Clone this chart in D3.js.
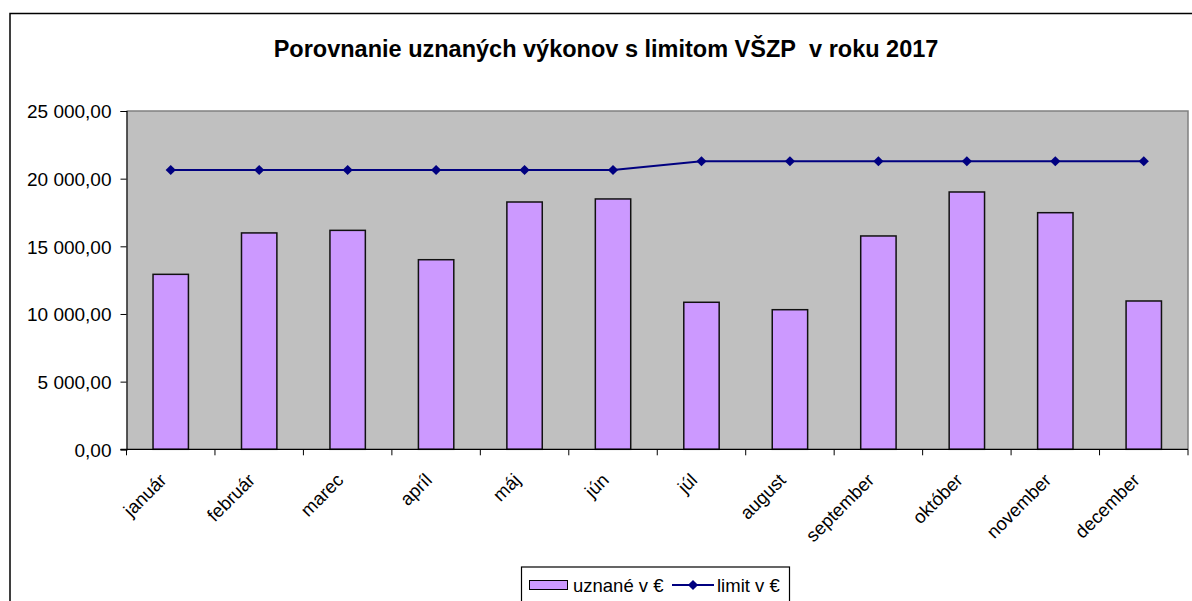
<!DOCTYPE html>
<html lang="sk">
    <head>
        <meta charset="UTF-8">
        <title>Porovnanie uznaných výkonov</title>
        <style>
            body {
            margin: 0;
            padding: 0;
            background: #fff;
            }
            svg text {
            font-family: "Liberation Sans", Arial, sans-serif;
            fill: #000;
            }
        </style>
    </head>
    <body>
        <div id="chart"></div>

        <script src="https://d3js.org/d3.v7.min.js"></script>

        <script>
            const months = ['január', 'február', 'marec', 'apríl', 'máj', 'jún',
                'júl', 'august', 'september', 'október', 'november', 'december'];
            const uznane = [12930, 15990, 16180, 14010, 18275, 18500,
                10865, 10316, 15765, 19015, 17485, 10960];
            const limit = [20640, 20640, 20640, 20640, 20640, 20640,
                21285, 21285, 21285, 21285, 21285, 21285];
            const yTicks = [0, 5000, 10000, 15000, 20000, 25000];

            const W = 1192, H = 601;
            const plot = { left: 126.5, right: 1188, top: 111, bottom: 449.3 };

            const svg = d3.select('#chart')
                .append('svg')
                .attr('width', W)
                .attr('height', H);

            // outer chart frame
            svg.append('rect')
                .attr('x', 10).attr('y', 13.5)
                .attr('width', W + 20).attr('height', H + 20)
                .attr('fill', 'none')
                .attr('stroke', '#000')
                .attr('stroke-width', 1.5);

            svg.append('text')
                .attr('x', 606).attr('y', 57)
                .attr('text-anchor', 'middle')
                .style('font-size', '23.5px')
                .style('font-weight', 'bold')
                .text('Porovnanie uznaných výkonov s limitom VŠZP\u00a0 v roku 2017');

            const x = d3.scaleBand()
                .domain(months)
                .range([plot.left, plot.right])
                .paddingInner(0.6)
                .paddingOuter(0.3);

            const xCat = d3.scaleBand()
                .domain(months)
                .range([plot.left, plot.right])
                .padding(0);

            const y = d3.scaleLinear()
                .domain([0, 25000])
                .range([plot.bottom, plot.top]);

            // plot background
            svg.append('rect')
                .attr('x', plot.left).attr('y', plot.top)
                .attr('width', plot.right - plot.left)
                .attr('height', plot.bottom - plot.top)
                .attr('fill', '#c0c0c0');
            svg.append('path')
                .attr('d', `M${plot.left},${plot.top}H${plot.right}V${plot.bottom}`)
                .attr('fill', 'none')
                .attr('stroke', '#808080')
                .attr('stroke-width', 1.5);

            const sk = d3.formatLocale({ decimal: ',', thousands: '\u00a0', grouping: [3], currency: ['', ' €'] });
            const fmt = sk.format(',.2f');

            const yAxis = svg.append('g')
                .attr('transform', `translate(${plot.left},0)`)
                .call(d3.axisLeft(y).tickValues(yTicks).tickFormat(fmt).tickSize(6).tickPadding(9));
            yAxis.select('.domain').attr('stroke', '#000').attr('stroke-width', 1.2);
            yAxis.selectAll('.tick line').attr('stroke', '#000');
            yAxis.selectAll('text')
                .style('font-size', '19px')
                .attr('dy', '0.36em')
                .attr('font-family', null);

            // bars
            svg.selectAll('.bar')
                .data(uznane)
                .enter().append('rect')
                .attr('class', 'bar')
                .attr('x', (d, i) => x(months[i]))
                .attr('width', x.bandwidth())
                .attr('y', d => y(d))
                .attr('height', d => y(0) - y(d))
                .attr('fill', '#cc99ff')
                .attr('stroke', '#111')
                .attr('stroke-width', 1.5);

            // x axis
            const xAxis = svg.append('g')
                .attr('transform', `translate(0,${plot.bottom})`);
            xAxis.append('line')
                .attr('x1', plot.left - 6).attr('x2', plot.right)
                .attr('stroke', '#000').attr('stroke-width', 1.2);
            xAxis.selectAll('.xtick')
                .data(months.concat(['end']))
                .enter().append('line')
                .attr('class', 'xtick')
                .attr('x1', (d, i) => i < months.length ? xCat(d) : plot.right)
                .attr('x2', (d, i) => i < months.length ? xCat(d) : plot.right)
                .attr('y1', 0).attr('y2', 6)
                .attr('stroke', '#000');
            xAxis.selectAll('.xlabel')
                .data(months)
                .enter().append('text')
                .attr('class', 'xlabel')
                .attr('text-anchor', 'end')
                .style('font-size', '18.5px')
                .attr('transform', d => `translate(${xCat(d) + xCat.bandwidth() / 2 - 3},${32}) rotate(-45)`)
                .text(d => d);

            // limit line
            const line = d3.line()
                .x((d, i) => x(months[i]) + x.bandwidth() / 2)
                .y(d => y(d));
            svg.append('path')
                .datum(limit)
                .attr('d', line)
                .attr('fill', 'none')
                .attr('stroke', '#000080')
                .attr('stroke-width', 1.8);
            const diamond = d3.symbol().type(d3.symbolSquare).size(52);
            svg.selectAll('.marker')
                .data(limit)
                .enter().append('path')
                .attr('class', 'marker')
                .attr('d', diamond)
                .attr('transform', (d, i) => `translate(${x(months[i]) + x.bandwidth() / 2},${y(d)}) rotate(45)`)
                .attr('fill', '#000080');

            // legend
            const legend = svg.append('g');
            legend.append('rect')
                .attr('x', 521.5).attr('y', 567)
                .attr('width', 268).attr('height', 40)
                .attr('fill', '#fff')
                .attr('stroke', '#000')
                .attr('stroke-width', 1.2);
            legend.append('rect')
                .attr('x', 529.5).attr('y', 580.5)
                .attr('width', 38).attr('height', 9)
                .attr('fill', '#cc99ff')
                .attr('stroke', '#000');
            legend.append('text')
                .attr('x', 573).attr('y', 591.5)
                .style('font-size', '18.5px')
                .text('uznané v €');
            legend.append('line')
                .attr('x1', 672).attr('x2', 714)
                .attr('y1', 585).attr('y2', 585)
                .attr('stroke', '#000080')
                .attr('stroke-width', 1.8);
            legend.append('path')
                .attr('d', diamond)
                .attr('transform', 'translate(693,585) rotate(45)')
                .attr('fill', '#000080');
            legend.append('text')
                .attr('x', 717).attr('y', 591.5)
                .style('font-size', '18.5px')
                .text('limit v €');
        </script>
    </body>
</html>
